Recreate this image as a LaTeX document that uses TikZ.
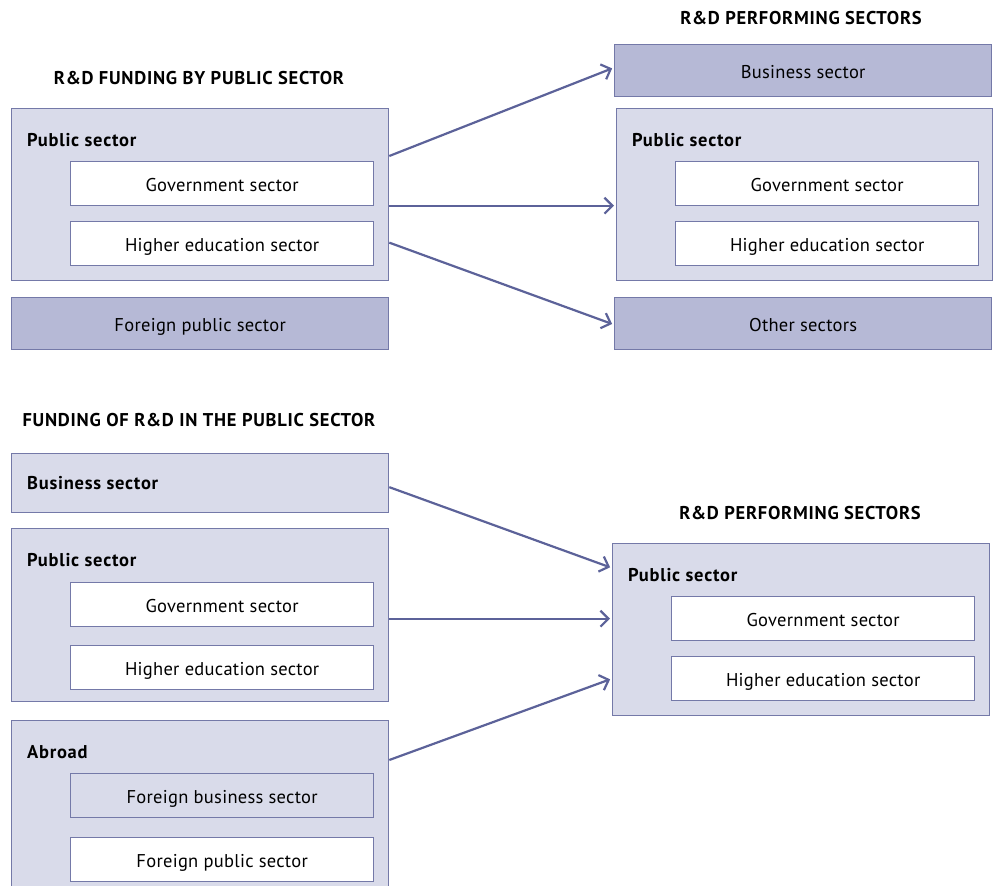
\documentclass[tikz,border=0pt]{standalone}
\usepackage{fontspec}
\setmainfont{PT Sans}[LetterSpace=1.5]
\newfontfamily\boldfam{PT Sans Bold}[LetterSpace=4]
\usetikzlibrary{arrows.meta}
\definecolor{lightfill}{HTML}{D9DBEA}
\definecolor{darkfill}{HTML}{B6B9D6}
\definecolor{bordercol}{HTML}{7479A8}
\definecolor{arrowcol}{HTML}{5C6299}
\tikzset{
  box/.style={draw=bordercol, line width=1.3pt, inner sep=0pt, anchor=north west, text height=16.5pt, text depth=0pt, font=\fontsize{18.5}{22}\selectfont},
  outerbox/.style={box, fill=lightfill},
  darkbox/.style={box, fill=darkfill},
  whitebox/.style={box, fill=white},
  boldlabel/.style={anchor=west, inner sep=0pt, font=\fontsize{18.5}{22}\selectfont\boldfam},
  titlelabel/.style={anchor=center, inner sep=0pt, font=\fontsize{18.5}{22}\selectfont\boldfam},
  arr/.style={draw=arrowcol, line width=2.2pt, -{Straight Barb[length=8pt,width=16pt,line width=2.2pt]}, shorten >=2pt}
}
\begin{document}
\begin{tikzpicture}[x=1pt,y=-1pt]
\useasboundingbox (0,0) rectangle (994,886);
\clip (0,0) rectangle (994,886);
% ---------- top part ----------
\node[titlelabel] (t1) at (199,78) {R\&D FUNDING BY PUBLIC SECTOR};
\node[titlelabel] (t2) at (801,18) {R\&D PERFORMING SECTORS};

\node[outerbox, minimum width=377pt, minimum height=172pt] (lps) at (11,108) {};
\node[boldlabel] (lpsl) at (27,140) {Public sector};
\node[whitebox, minimum width=303pt, minimum height=44pt] (lgov) at (70,161) {Government sector};
\node[whitebox, minimum width=303pt, minimum height=44pt] (lhe) at (70,221) {Higher education sector};
\node[darkbox, minimum width=377pt, minimum height=52pt] (lfor) at (11,297) {Foreign public sector};

\node[darkbox, minimum width=377pt, minimum height=52pt] (rbus) at (614,44) {Business sector};
\node[outerbox, minimum width=376pt, minimum height=172pt] (rps) at (616,108) {};
\node[boldlabel] (rpsl) at (632,140) {Public sector};
\node[whitebox, minimum width=303pt, minimum height=44pt] (rgov) at (675,161) {Government sector};
\node[whitebox, minimum width=303pt, minimum height=44pt] (rhe) at (675,221) {Higher education sector};
\node[darkbox, minimum width=377pt, minimum height=52pt] (roth) at (614,297) {Other sectors};

\draw[arr] ([yshift=-48pt]lps.north east) -- ([yshift=3pt]rbus.west);
\draw[arr] ([yshift=-11pt]lps.east) -- ([yshift=-11pt]rps.west);
\draw[arr] ([yshift=-48pt]lps.east) -- ([yshift=-1pt]roth.west);

% ---------- bottom part ----------
\node[titlelabel] (t3) at (199,420) {FUNDING OF R\&D IN THE PUBLIC SECTOR};
\node[titlelabel] (t4) at (800,513) {R\&D PERFORMING SECTORS};

\node[outerbox, minimum width=377pt, minimum height=59pt] (bbus) at (11,453) {};
\node[boldlabel] (bbusl) at (27,483) {Business sector};

\node[outerbox, minimum width=377pt, minimum height=173pt] (bps) at (11,528) {};
\node[boldlabel] (bpsl) at (27,560) {Public sector};
\node[whitebox, minimum width=303pt, minimum height=44pt] (bgov) at (70,582) {Government sector};
\node[whitebox, minimum width=303pt, minimum height=44pt] (bhe) at (70,645) {Higher education sector};

\node[outerbox, minimum width=377pt, minimum height=175pt] (babr) at (11,720) {};
\node[boldlabel] (babrl) at (27,752) {Abroad};
\node[outerbox, minimum width=303pt, minimum height=44pt] (bfbus) at (70,773) {Foreign business sector};
\node[whitebox, minimum width=303pt, minimum height=44pt] (bfpub) at (70,837) {Foreign public sector};

\node[outerbox, minimum width=377pt, minimum height=172pt] (brps) at (612,543) {};
\node[boldlabel] (brpsl) at (628,575) {Public sector};
\node[whitebox, minimum width=303pt, minimum height=44pt] (brgov) at (671,596) {Government sector};
\node[whitebox, minimum width=303pt, minimum height=44pt] (brhe) at (671,656) {Higher education sector};

\draw[arr] ([yshift=-4pt]bbus.east) -- ([yshift=-25pt]brps.north west);
\draw[arr] ([yshift=-3.5pt]bps.east) -- ([yshift=11pt]brps.west);
\draw[arr] ([yshift=-40pt]babr.north east) -- ([yshift=-49pt]brps.west);
\end{tikzpicture}
\end{document}
